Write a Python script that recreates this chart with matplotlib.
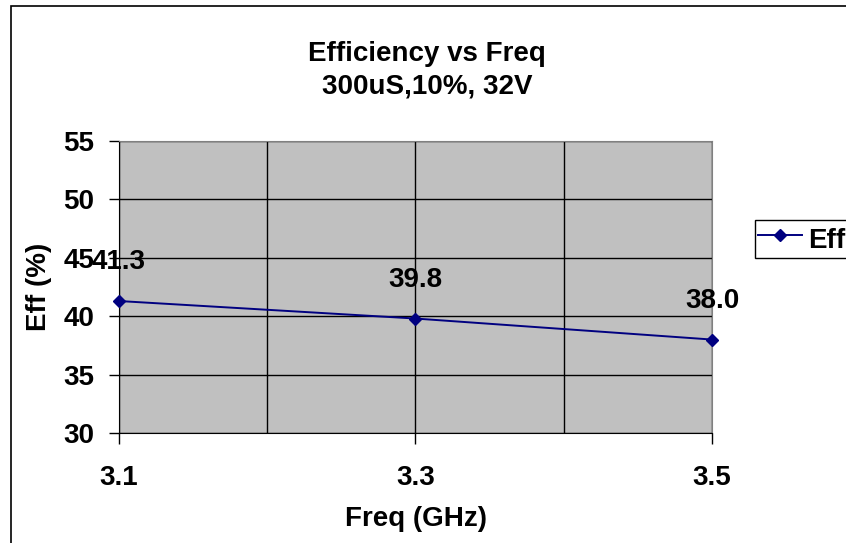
import numpy as np
import matplotlib.pyplot as plt
from matplotlib.patches import Rectangle
from matplotlib.ticker import MultipleLocator

plt.rcParams['font.family'] = ['Liberation Sans', 'DejaVu Sans']
plt.rcParams['font.weight'] = 'bold'

freq = [3.1, 3.3, 3.5]
eff = [41.3, 39.8, 38.0]
series_name = "Eff"

fs = 20
fig = plt.figure(figsize=(8.46, 5.43), dpi=100)
ax = fig.add_axes([119/846, 110/543, 593/846, 292/543])
ax.set_facecolor('#c0c0c0')

ax.plot(freq, eff, color='#000080', lw=1.4, marker='D', ms=6.5, label=series_name,
        clip_on=False, zorder=3)
for x, y in zip(freq, eff):
    ax.annotate(f"{y:.1f}", (x, y), xytext=(0, 28), textcoords='offset points',
                ha='center', va='center', fontsize=fs, fontweight='bold')

ax.set_xlim(3.1, 3.5)
ax.set_ylim(30, 55)
ax.set_xticks(freq)
ax.set_xticklabels([f"{v:.1f}" for v in freq])
ax.xaxis.set_minor_locator(MultipleLocator(0.1))
ax.set_yticks(np.arange(30, 56, 5))
ax.grid(True, which='both', axis='x', color='black', lw=1)
ax.grid(True, which='major', axis='y', color='black', lw=1)
ax.tick_params(axis='x', which='major', length=8, width=1, pad=15, labelsize=fs)
ax.tick_params(axis='x', which='minor', length=0)
ax.tick_params(axis='y', length=7, width=1, pad=11, labelsize=fs)
for s in ['left', 'bottom']:
    ax.spines[s].set_color('black')
for s in ['top', 'right']:
    ax.spines[s].set_color('#808080')

fig.text(427/846, 1 - 70/543, "Efficiency vs Freq\n300uS,10%, 32V", ha='center', va='center',
         fontsize=fs, fontweight='bold', linespacing=1.3)
ax.set_xlabel("Freq (GHz)", fontsize=fs, fontweight='bold')
ax.xaxis.set_label_coords(0.5, (433 - 519) / 292)
ax.xaxis.label.set_va('center')
ax.set_ylabel("Eff (%)", fontsize=fs, fontweight='bold')
ax.yaxis.set_label_coords((39 - 119) / 593, 0.5)
ax.yaxis.label.set_va('center')

# legend box runs off the right edge like the original
leg = ax.legend(loc='center left', bbox_to_anchor=(755/846, 1 - 239/543),
                bbox_transform=fig.transFigure, borderaxespad=0, fancybox=False,
                edgecolor='black', framealpha=1, fontsize=fs, handlelength=1.6,
                handleheight=1.45, handletextpad=0.2, borderpad=0.1)
leg.get_frame().set_linewidth(1)

fig.patches.append(Rectangle((11/846, -0.1), 1.2, 1.1 - 6/543, transform=fig.transFigure,
                             fill=False, edgecolor='black', lw=1.2))

fig.savefig("out.png", dpi=100)
